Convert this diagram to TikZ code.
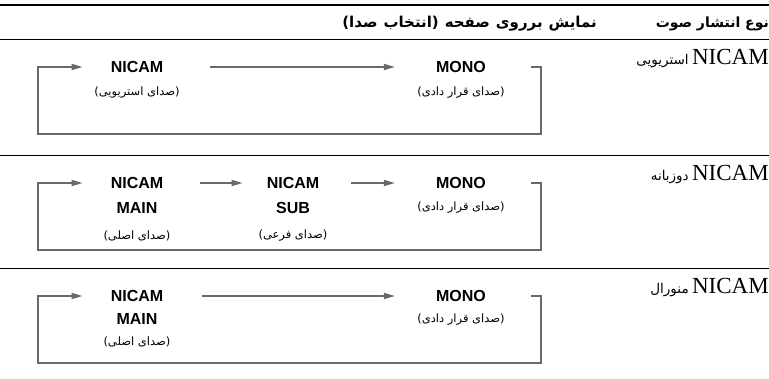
\documentclass[tikz,border=0pt]{standalone}
\usepackage{fontspec}
\setmainfont{Liberation Serif}
\newfontfamily\latinsans{Liberation Sans}
\newfontfamily\farsi[Script=Arabic]{DejaVu Sans}
\TeXXeTstate=1
\usetikzlibrary{arrows.meta,positioning}
\definecolor{wire}{RGB}{105,105,105}

\tikzset{
  mode/.style={font=\latinsans\bfseries\fontsize{16}{16}\selectfont,inner sep=0pt},
  note/.style={font=\farsi\fontsize{11.5}{11.5}\selectfont,inner sep=0pt},
  head/.style={font=\farsi\bfseries\fontsize{14}{14}\selectfont,inner sep=0pt,anchor=base east},
  kind/.style={font=\fontsize{23}{23}\selectfont,inner sep=0pt,anchor=base east},
  kindfa/.style={font=\farsi\fontsize{13.5}{13.5}\selectfont,inner sep=0pt,anchor=base east},
  wirepath/.style={draw=wire,line width=1.6pt},
  flow/.style={wirepath,-{Triangle[length=11pt,width=6pt]}}
}

\begin{document}
\begin{tikzpicture}[x=1pt,y=-1pt]
  \useasboundingbox (0,0) rectangle (769,378);

  % header
  \draw[line width=2.4pt] (0,5) -- (769,5);
  \node[head] (hkind) at (769,27) {\beginR نوع انتشار صوت\endR};
  \node[head,font=\farsi\bfseries\fontsize{15}{15}\selectfont] (hshow) at (597,27) {\spaceskip=6pt\beginR نمایش برروی صفحه (انتخاب صدا)\endR};

  % rules and row labels
  \foreach \i/\y/\t in {1/39/استریویی,2/155/دوزبانه,3/268/منورال} {
    \draw[line width=0.8pt] (0,\y) -- (769,\y);
    \node[kind] (k\i) at (769,\y+25) {NICAM};
    \node[kindfa] (k\i fa) at ([xshift=-3pt]k\i.base west) {\beginR\t\endR};
  }

  % row 1
  \node[mode] (a1) at (137,67) {NICAM};
  \node[note] (a1n) at (137,93) {\beginR(صدای استریویی)\endR};
  \node[mode] (m1) at (461,67) {MONO};
  \node[note] (m1n) at (461,93) {\beginR(صدای قرار دادی)\endR};
  \draw[flow,shorten <=47pt,shorten >=41pt] (a1) -- (m1);

  % row 2
  \node[mode] (a2) at (137,183) {NICAM};
  \node[mode] (a2b) at (137,208) {MAIN};
  \node[note] (a2n) at (137,236) {\beginR(صدای اصلی)\endR};
  \node[mode] (s2) at (293,183) {NICAM};
  \node[mode] (s2b) at (293,208) {SUB};
  \node[note] (s2n) at (293,236) {\beginR(صدای فرعی)\endR};
  \node[mode] (m2) at (461,183) {MONO};
  \node[note] (m2n) at (461,208) {\beginR(صدای قرار دادی)\endR};
  \draw[flow,shorten <=37pt,shorten >=24pt] (a2) -- (s2);
  \draw[flow,shorten <=32pt,shorten >=41pt] (s2) -- (m2);

  % row 3
  \node[mode] (a3) at (137,296) {NICAM};
  \node[mode] (a3b) at (137,319) {MAIN};
  \node[note] (a3n) at (137,342) {\beginR(صدای اصلی)\endR};
  \node[mode] (m3) at (461,296) {MONO};
  \node[note] (m3n) at (461,320) {\beginR(صدای قرار دادی)\endR};
  \draw[flow,shorten <=39pt,shorten >=41pt] (a3) -- (m3);

  % return loops
  \foreach \i/\y in {1/67,2/183,3/296} {
    \coordinate (b\i) at (531,\y);
    \draw[flow,shorten >=28pt] (b\i) -| (541,\y+67) -| (38,\y) -- (a\i);
  }
\end{tikzpicture}
\end{document}
